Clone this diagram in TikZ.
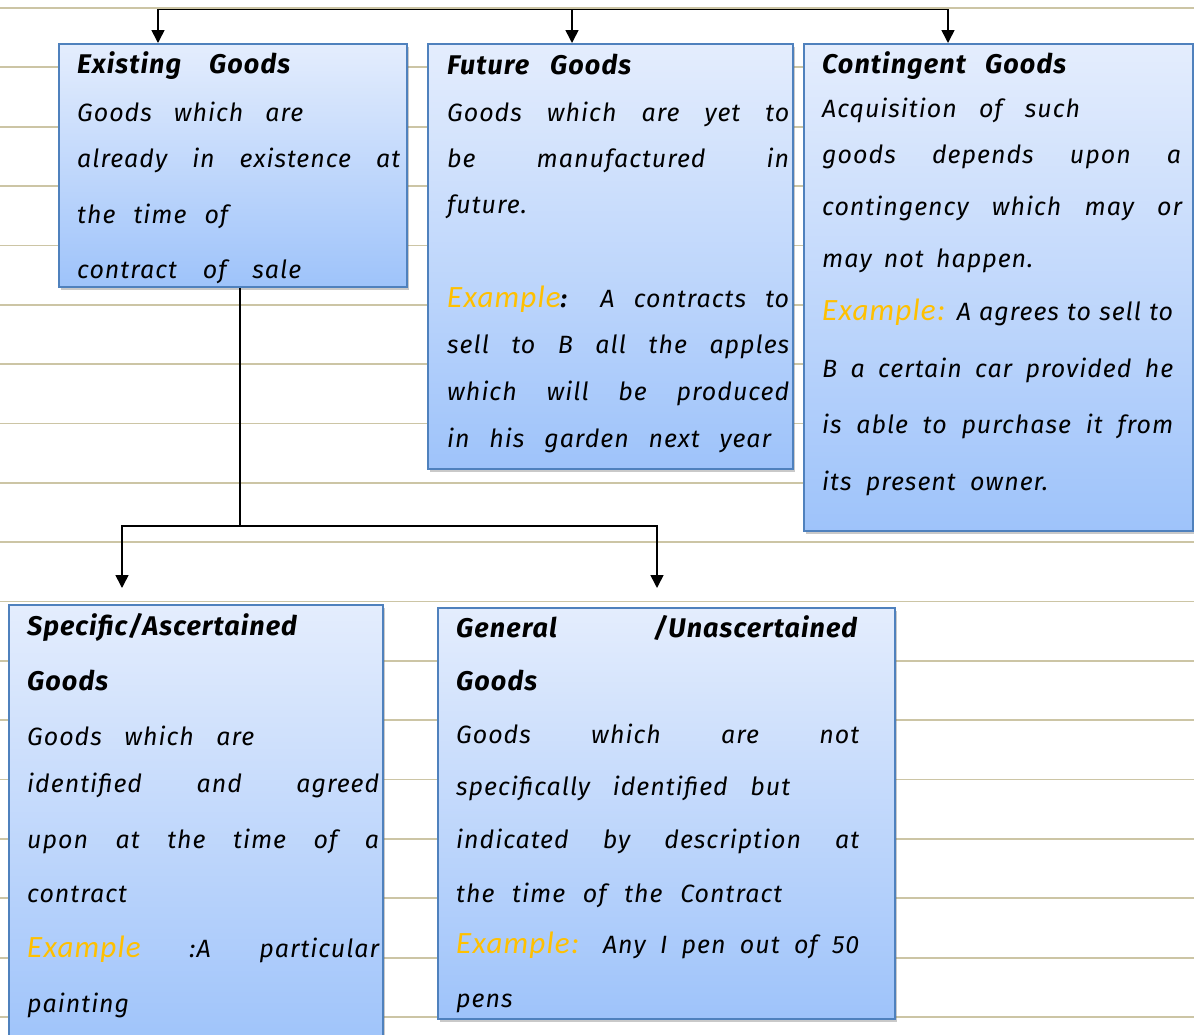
\documentclass[tikz,border=0pt]{standalone}
\usepackage{fontspec}
\setmainfont{Fira Sans}[LetterSpace=4]
\newfontfamily\exfont{Carlito}[LetterSpace=4]
\usetikzlibrary{shadows,calc,arrows.meta}

\definecolor{ruleline}{RGB}{204,197,165}
\definecolor{boxedge}{RGB}{79,129,189}
\definecolor{boxtop}{RGB}{228,237,253}
\definecolor{boxbot}{RGB}{158,195,250}
\definecolor{exgold}{RGB}{255,192,0}

% gold "Example" label and a line stretched to a given width
\newcommand{\ex}[1]{{\exfont\fontsize{31}{31}\selectfont\color{exgold}#1}}
\newcommand{\jl}[2]{\makebox[#1pt][s]{#2}}

\tikzset{
  box/.style={draw=boxedge, line width=2pt, top color=boxtop, bottom color=boxbot,
    anchor=north west, inner sep=0pt,
    drop shadow={shadow xshift=2pt, shadow yshift=-3pt, opacity=0.35, fill=black!60}},
  ln/.style={anchor=base west, inner sep=0pt, font=\fontsize{25}{25}\selectfont\itshape},
  ttl/.style={anchor=base west, inner sep=0pt, font=\fontsize{27}{27}\selectfont\bfseries\itshape},
  arr/.style={line width=1.6pt, -{Triangle[width=13pt,length=13pt]}},
  link/.style={line width=1.6pt},
  paperline/.style={draw=ruleline, line width=1.8pt},
}

\begin{document}
\begin{tikzpicture}[x=1pt,y=-1pt]
\useasboundingbox (0,0) rectangle (1194,1034);
\clip (0,0) rectangle (1194,1034);
\fill[white] (0,0) rectangle (1194,1034);

% ruled paper
\foreach \k in {0,...,17}
  \draw[paperline] (0,{8+59.35*\k}) -- (1194,{8+59.35*\k});

% boxes
\node[box, minimum width=348pt, minimum height=243pt] (exist) at (58,43) {};
\node[box, minimum width=365pt, minimum height=425pt] (future) at (427,43) {};
\node[box, minimum width=389pt, minimum height=487pt] (cont) at (803,43) {};
\node[box, minimum width=374pt, minimum height=445pt] (spec) at (8,604) {};
\node[box, minimum width=457pt, minimum height=411pt] (gen) at (437,607) {};

% connectors
\coordinate (topmid) at (572,9.5);
\coordinate (topL) at (158,9.5);
\coordinate (topR) at (948,9.5);
\draw[arr] (topmid) -| (exist.north -| topL);
\draw[arr] (topmid) -- (future.north -| topmid);
\draw[arr] (topmid) -| (cont.north -| topR);

\coordinate (split) at (240,526);
\coordinate (toSpec) at (122,588);
\coordinate (toGen) at (657,588);
\draw[link] (exist.south -| split) -- (split);
\draw[arr] (split) -| (toSpec);
\draw[arr] (split) -| (toGen);

% Existing Goods
\node[ttl] (e0) at (77,73) {\jl{213}{Existing Goods}};
\node[ln] (e1) at (77,121) {\jl{226}{Goods which are}};
\node[ln] (e2) at (77,167) {\jl{323}{already in existence at}};
\node[ln] (e3) at (77,223) {\jl{151}{the time of}};
\node[ln] (e4) at (77,278) {\jl{224}{contract of sale}};

% Future Goods
\node[ttl] (f0) at (447,74) {\jl{184}{Future Goods}};
\node[ln] (f1) at (447,121) {\jl{342}{Goods which are yet to}};
\node[ln] (f2) at (447,167) {\jl{342}{be manufactured in}};
\node[ln] (f3) at (447,213) {future.};
\node[ln] (f4) at (447,307) {\jl{342}{\ex{Example}\textbf{:} A contracts to}};
\node[ln] (f5) at (447,353) {\jl{342}{sell to B all the apples}};
\node[ln] (f6) at (447,400) {\jl{342}{which will be produced}};
\node[ln] (f7) at (447,447) {\jl{324}{in his garden next year}};

% Contingent Goods
\node[ttl] (c0) at (822,73) {\jl{244}{Contingent Goods}};
\node[ln] (c1) at (822,117) {\jl{258}{Acquisition of such}};
\node[ln] (c2) at (822,163) {\jl{359}{goods depends upon a}};
\node[ln] (c3) at (822,215) {\jl{360}{contingency which may or}};
\node[ln] (c4) at (822,267) {\jl{211}{may not happen.}};
\node[ln] (c5) at (822,320) {\jl{351}{\ex{Example:} A agrees to sell to}};
\node[ln] (c6) at (822,377) {\jl{351}{B a certain car provided he}};
\node[ln] (c7) at (822,433) {\jl{351}{is able to purchase it from}};
\node[ln] (c8) at (822,490) {\jl{226}{its present owner.}};

% Specific / Ascertained Goods
\node[ttl] (s0) at (27,635) {Specific/Ascertained};
\node[ttl] (s1) at (27,690) {Goods};
\node[ln] (s2) at (27,745) {\jl{227}{Goods which are}};
\node[ln] (s3) at (27,792) {\jl{352}{identified and agreed}};
\node[ln] (s4) at (27,848) {\jl{352}{upon at the time of a}};
\node[ln] (s5) at (27,902) {contract};
\node[ln] (s6) at (27,957) {\jl{352}{\ex{Example} :A particular}};
\node[ln] (s7) at (27,1012) {painting};

% General / Unascertained Goods
\node[ttl] (g0) at (456,637) {\jl{401}{General /Unascertained}};
\node[ttl] (g1) at (456,690) {Goods};
\node[ln] (g2) at (456,743) {\jl{403}{Goods which are not}};
\node[ln] (g3) at (456,795) {\jl{334}{specifically identified but}};
\node[ln] (g4) at (456,848) {\jl{403}{indicated by description at}};
\node[ln] (g5) at (456,902) {\jl{326}{the time of the Contract}};
\node[ln] (g6) at (456,953) {\jl{403}{\ex{Example:} Any I pen out of 50}};
\node[ln] (g7) at (456,1007) {pens};
\end{tikzpicture}
\end{document}
